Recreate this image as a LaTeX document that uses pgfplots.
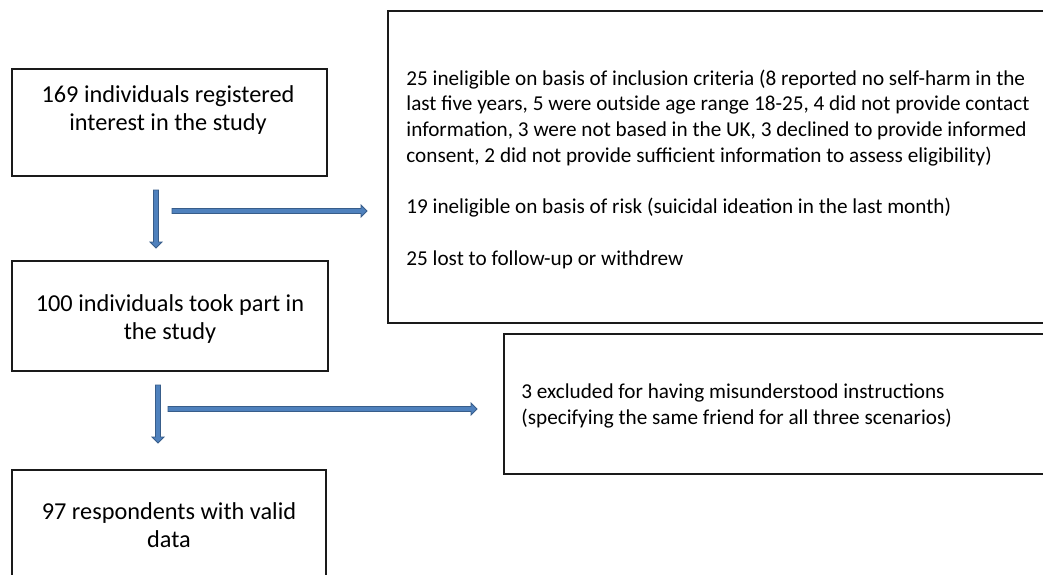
\documentclass[border=0pt]{standalone}
\usepackage{fontspec}
\setmainfont{Carlito}
\usepackage{pgfplots}
\pgfplotsset{compat=1.18}
\definecolor{arrowfill}{HTML}{4F81BD}
\definecolor{arrowline}{HTML}{385D8A}
\definecolor{boxline}{HTML}{1A1A1A}
\newcommand\lfont{\fontsize{12.15}{14}\selectfont}
\newcommand\rfont{\fontsize{10.6}{12.85}\selectfont}
\begin{document}
\begin{tikzpicture}
\begin{axis}[
  width=521.5pt, height=287pt, scale only axis,
  hide axis, no markers,
  xmin=0, xmax=1043, ymin=0, ymax=574,
  y dir=reverse, clip=true,
]
% background
\addplot[draw=none, fill=white] coordinates {(0,0) (1043,0) (1043,574) (0,574)} -- cycle;
% boxes
\addplot[boxline, line width=0.6pt] coordinates {(12,69) (327,69) (327,176) (12,176)} -- cycle;
\addplot[boxline, line width=0.6pt] coordinates {(12,261) (328,261) (328,371) (12,371)} -- cycle;
\addplot[boxline, line width=0.6pt] coordinates {(12,470) (326,470) (326,620) (12,620)} -- cycle;
\addplot[boxline, line width=0.6pt] coordinates {(388,11) (1100,11) (1100,323) (388,323)} -- cycle;
\addplot[boxline, line width=0.6pt] coordinates {(504,334) (1100,334) (1100,474) (504,474)} -- cycle;
% arrows (down)
\addplot[draw=arrowline, fill=arrowfill, line width=0.4pt] coordinates {(153.5,190) (158.5,190) (158.5,242) (162,242) (156,248) (150,242) (153.5,242)} -- cycle;
\addplot[draw=arrowline, fill=arrowfill, line width=0.4pt] coordinates {(155.5,385) (160.5,385) (160.5,437) (164,437) (158,443) (152,437) (155.5,437)} -- cycle;
% arrows (right)
\addplot[draw=arrowline, fill=arrowfill, line width=0.4pt] coordinates {(172,208.5) (361,208.5) (361,205) (367,211) (361,217) (361,213.5) (172,213.5)} -- cycle;
\addplot[draw=arrowline, fill=arrowfill, line width=0.4pt] coordinates {(168,406.5) (471,406.5) (471,403) (477,409) (471,415) (471,411.5) (168,411.5)} -- cycle;
% left texts
\node[anchor=base, font=\lfont] at (axis cs:168,102) {169 individuals registered};
\node[anchor=base, font=\lfont] at (axis cs:168,130) {interest in the study};
\node[anchor=base, font=\lfont] at (axis cs:170,311) {100 individuals took part in};
\node[anchor=base, font=\lfont] at (axis cs:170,339) {the study};
\node[anchor=base, font=\lfont] at (axis cs:169,519) {97 respondents with valid};
\node[anchor=base, font=\lfont] at (axis cs:169,547) {data};
% right texts
\node[anchor=base west, font=\rfont, inner sep=0pt] at (axis cs:406,85) {25 ineligible on basis of inclusion criteria (8 reported no self-harm in the};
\node[anchor=base west, font=\rfont, inner sep=0pt] at (axis cs:406,110.7) {last five years, 5 were outside age range 18-25, 4 did not provide contact};
\node[anchor=base west, font=\rfont, inner sep=0pt] at (axis cs:406,136.4) {information, 3 were not based in the UK, 3 declined to provide informed};
\node[anchor=base west, font=\rfont, inner sep=0pt] at (axis cs:406,162.1) {consent, 2 did not provide sufficient information to assess eligibility)};
\node[anchor=base west, font=\rfont, inner sep=0pt] at (axis cs:406,213.5) {19 ineligible on basis of risk (suicidal ideation in the last month)};
\node[anchor=base west, font=\rfont, inner sep=0pt] at (axis cs:406,265) {25 lost to follow-up or withdrew};
\node[anchor=base west, font=\rfont, inner sep=0pt] at (axis cs:521,398) {3 excluded for having misunderstood instructions};
\node[anchor=base west, font=\rfont, inner sep=0pt] at (axis cs:521,424) {(specifying the same friend for all three scenarios)};
\end{axis}
\end{tikzpicture}
\end{document}
